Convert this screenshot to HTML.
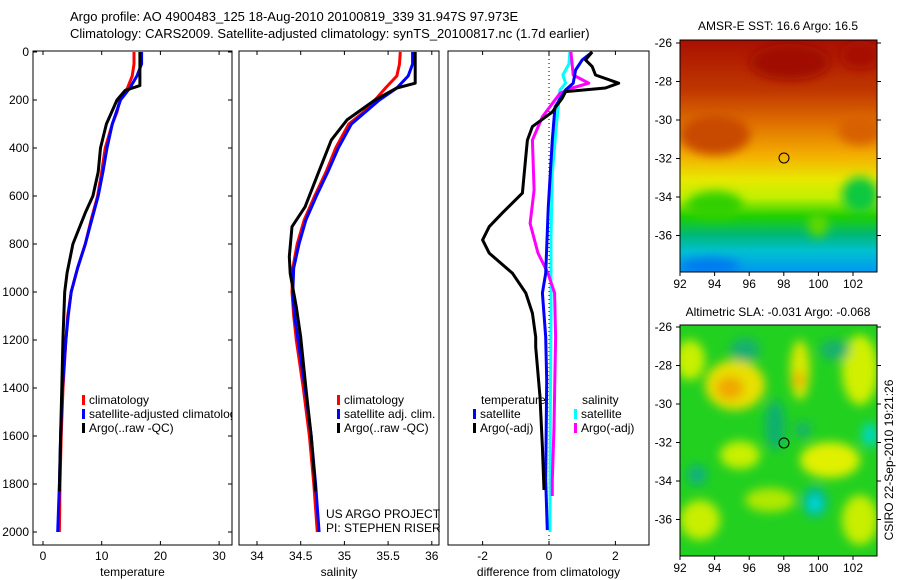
<!DOCTYPE html>
<html><head><meta charset="utf-8">
<style>
body{margin:0;background:#fff;width:900px;height:580px;overflow:hidden}
svg{display:block;font-family:"Liberation Sans",sans-serif}
</style></head>
<body>
<svg id="fig" width="900" height="580" viewBox="0 0 900 580">
<defs>
<filter id="blur6" x="-50%" y="-50%" width="200%" height="200%"><feGaussianBlur stdDeviation="5"/></filter>
<clipPath id="c1"><rect x="680" y="40" width="197" height="232"/></clipPath>
<clipPath id="c2"><rect x="680" y="325" width="197" height="231"/></clipPath>
<clipPath id="cp1"><rect x="33" y="51" width="199" height="494"/></clipPath>
<linearGradient id="sstg" x1="0" y1="0" x2="0" y2="1">
<stop offset="0" stop-color="#a81000"/><stop offset="0.22" stop-color="#c03800"/>
<stop offset="0.36" stop-color="#e07000"/><stop offset="0.5" stop-color="#f4b000"/>
<stop offset="0.6" stop-color="#e8e800"/><stop offset="0.68" stop-color="#c0f000"/>
<stop offset="0.76" stop-color="#20d000"/><stop offset="0.84" stop-color="#00b878"/>
<stop offset="0.91" stop-color="#00c0d0"/><stop offset="1" stop-color="#0098f0"/></linearGradient>
</defs>
<text x="70" y="21" font-size="13">Argo profile: AO 4900483_125 18-Aug-2010 20100819_339 31.947S 97.973E</text>
<text x="70" y="38" font-size="13">Climatology: CARS2009. Satellite-adjusted climatology: synTS_20100817.nc (1.7d earlier)</text>
<g id="p1"></g>
<g id="p2"></g>
<g id="p3"></g>

<g>
<text x="778" y="30" font-size="12" text-anchor="middle">AMSR-E SST: 16.6 Argo: 16.5</text>
<g clip-path="url(#c1)">
<rect x="680" y="40" width="197" height="232" fill="url(#sstg)"/>
<g filter="url(#blur6)">
<ellipse cx="790" cy="62" rx="40" ry="18" fill="#a00c00"/>
<ellipse cx="860" cy="55" rx="20" ry="14" fill="#a81000"/>
<ellipse cx="715" cy="135" rx="35" ry="20" fill="#c84800"/>
<ellipse cx="860" cy="130" rx="22" ry="15" fill="#d86000"/>
<ellipse cx="715" cy="205" rx="28" ry="14" fill="#30d000"/>
<ellipse cx="860" cy="195" rx="18" ry="18" fill="#10c840"/>
<ellipse cx="818" cy="225" rx="10" ry="12" fill="#60d800"/>
<ellipse cx="710" cy="266" rx="30" ry="8" fill="#0078f0"/>
</g></g>
<rect x="680" y="40" width="197" height="232" fill="none" stroke="#000"/>
<circle cx="784" cy="158" r="5" fill="none" stroke="#000"/>
<g id="m1ax"></g>
</g>

<g>
<text x="778" y="316" font-size="12" text-anchor="middle">Altimetric SLA: -0.031 Argo: -0.068</text>
<g clip-path="url(#c2)">
<rect x="680" y="325" width="197" height="231" fill="#22d020"/>
<g filter="url(#blur6)">
<ellipse cx="735" cy="385" rx="30" ry="25" fill="#e8e000"/>
<ellipse cx="730" cy="388" rx="14" ry="12" fill="#f0a800"/>
<ellipse cx="800" cy="370" rx="10" ry="30" fill="#d8e800"/>
<ellipse cx="799" cy="380" rx="6" ry="8" fill="#f0b000"/>
<ellipse cx="690" cy="360" rx="15" ry="20" fill="#c8f000"/>
<ellipse cx="860" cy="370" rx="18" ry="35" fill="#d0f000"/>
<ellipse cx="830" cy="460" rx="30" ry="18" fill="#e0f000"/>
<ellipse cx="740" cy="455" rx="20" ry="14" fill="#c8f000"/>
<ellipse cx="700" cy="520" rx="20" ry="20" fill="#c8ee00"/>
<ellipse cx="860" cy="520" rx="18" ry="25" fill="#c8ee00"/>
<ellipse cx="770" cy="500" rx="25" ry="12" fill="#b0e800"/>
<ellipse cx="815" cy="502" rx="12" ry="15" fill="#00b8a0"/>
<ellipse cx="815" cy="504" rx="6" ry="7" fill="#00e0e0"/>
<ellipse cx="775" cy="425" rx="10" ry="25" fill="#10b070"/>
<ellipse cx="745" cy="350" rx="15" ry="12" fill="#18b070"/>
<ellipse cx="835" cy="350" rx="15" ry="10" fill="#18b070"/>
<ellipse cx="697" cy="475" rx="10" ry="10" fill="#10b080"/>
<ellipse cx="870" cy="435" rx="8" ry="12" fill="#00d8c0"/>
<ellipse cx="803" cy="430" rx="8" ry="8" fill="#18b070"/>
</g></g>
<rect x="680" y="325" width="197" height="231" fill="none" stroke="#000"/>
<circle cx="784" cy="443" r="5" fill="none" stroke="#000"/>
<g id="m2ax"></g>
</g>
<text transform="translate(893,460) rotate(-90)" font-size="12" text-anchor="middle">CSIRO 22-Sep-2010 19:21:26</text>
</svg>
<script>
// ---- data ----
const gridDepth = [0,50,100,150,200,250,300,400,500,600,700,800,900,1000,1100,1200,1400,1600,1800,2000];
const tClim = [15.5,15.5,15.2,14.4,13.1,12.6,11.8,10.6,10.0,9.3,8.2,7.2,5.9,4.8,4.2,3.9,3.4,3.1,2.9,2.8];
const tSat = [16.8,16.8,16.0,14.8,13.2,12.5,11.8,10.9,10.2,9.4,8.3,7.2,5.9,4.8,4.3,3.9,3.3,3.0,2.8,2.5];
const tArgoDepth = [0,140,160,200,300,400,500,600,670,800,920,1000,1190,1400,1600,1830];
const tArgo = [16.5,16.5,14.0,12.6,10.8,9.8,9.4,8.5,7.2,5.1,4.1,3.7,3.4,3.2,3.0,2.8];
const sClim = [35.64,35.63,35.60,35.47,35.35,35.22,35.05,34.90,34.79,34.66,34.54,34.46,34.41,34.40,34.42,34.45,34.53,34.60,34.65,34.69];
const sSat = [35.78,35.78,35.73,35.60,35.40,35.24,35.08,34.93,34.81,34.68,34.56,34.48,34.42,34.41,34.43,34.47,34.55,34.62,34.67,34.71];
const sArgoDepth = [0,130,150,200,283,367,505,645,728,853,922,1062,1188,1400,1600,1830];
const sArgo = [35.81,35.81,35.60,35.35,35.03,34.85,34.70,34.55,34.40,34.37,34.38,34.45,34.50,34.56,34.62,34.67];
const dTArgoDepth = [0,33,61,96,130,150,165,192,220,250,311,367,436,588,670,728,783,838,922,1004,1088,1188,1229,1437,1646,1825];
const dTArgo = [1.3,1.1,1.3,1.4,2.1,1.7,0.5,0.4,0.25,0.1,-0.5,-0.65,-0.7,-0.8,-1.4,-1.8,-2.0,-1.8,-1.1,-0.7,-0.5,-0.4,-0.4,-0.27,-0.2,-0.15];
const dTSatDepth = [0,33,75,130,158,229,367,645,922,1004,1188,1367,1783,1992];
const dTSat = [1.3,1.0,0.8,0.73,0.5,0.18,0.1,-0.02,-0.1,-0.2,-0.1,-0.07,-0.1,-0.05];
const dSSatDepth = [0,50,96,130,158,297,505,783,1100,1500,2000];
const dSSat = [0.63,0.6,0.42,0.5,0.33,0.23,0.1,0.06,0.06,0.04,0.03];
const dSArgoDepth = [0,96,130,150,172,270,367,575,714,838,922,1004,1188,1562,1783,1850];
const dSArgo = [0.66,0.73,1.2,0.7,0.33,-0.2,-0.5,-0.45,-0.57,-0.33,-0.03,0.17,0.2,0.15,0.1,0.1];
const depthTicks = [0,200,400,600,800,1000,1200,1400,1600,1800,2000];
const tempTicks = [0,10,20,30];
const salTicks = [34,34.5,35,35.5,36];
const diffTicks = [-2,0,2];
const lonTicks = [92,94,96,98,100,102];
const latTicks = [-26,-28,-30,-32,-34,-36];

const NS = 'http://www.w3.org/2000/svg';
function mk(tag, attrs, parent){const e=document.createElementNS(NS,tag);for(const k in attrs)e.setAttribute(k,attrs[k]);parent.appendChild(e);return e;}
const yD = d => 52 + 0.24*d;
const xT = v => 43 + 5.87*v;
const xS = v => 257 + 87.4*(v-34);
const xDf = v => 549 + 33.2*v;

function panel(g, x0, x1, xs, ticks, title, leftTicks){
  const y0=51, y1=545;
  const r = mk('rect',{x:x0,y:y0,width:x1-x0,height:y1-y0,fill:'none',stroke:'#000'},g);
  
  
  ticks.forEach(t=>{
    const x=xs(t);
    mk('line',{x1:x,x2:x,y1:y0,y2:y0+4,stroke:'#000'},g);
    mk('line',{x1:x,x2:x,y1:y1,y2:y1-4,stroke:'#000'},g);
    const tx=mk('text',{x:x,y:y1+15,'font-size':12,'text-anchor':'middle'},g);
    tx.textContent=String(t);
    
    
  });
  const tt=mk('text',{x:(x0+x1)/2,y:576,'font-size':12,'text-anchor':'middle'},g);
  tt.textContent=title;
  
  
  if(leftTicks){
    depthTicks.forEach(d=>{
      const y=yD(d);
      mk('line',{x1:x0,x2:x0+4,y1:y,y2:y,stroke:'#000'},g);
      mk('line',{x1:x1,x2:x1-4,y1:y,y2:y,stroke:'#000'},g);
      const tx=mk('text',{x:x0-4,y:y+4,'font-size':12,'text-anchor':'end'},g);
      tx.textContent=String(d);
      
      
    });
  }
}
function line(g, depths, vals, xs, color, name){
  const pts = depths.map((d,i)=>xs(vals[i]).toFixed(1)+','+yD(d).toFixed(1)).join(' ');
  const p = mk('polyline',{points:pts,fill:'none',stroke:color,'stroke-width':3,'stroke-linejoin':'round'},g);
  
  
}
function legend(g, x, y, color, label, name){
  mk('rect',{x:x,y:y-9,width:3,height:10,fill:color},g);
  const t=mk('text',{x:x+7,y:y,'font-size':12},g);
  t.textContent=label;
  
  
}
const p1=document.getElementById('p1'), p2=document.getElementById('p2'), p3=document.getElementById('p3');
panel(p1,33,232,xT,tempTicks,'temperature',true);
line(p1,gridDepth,tClim,xT,'#f00','temp-climatology-line');
line(p1,gridDepth,tSat,xT,'#00f','temp-satellite-line');
line(p1,tArgoDepth,tArgo,xT,'#000','temp-argo-line');
const lg1=mk('g',{'clip-path':'url(#cp1)'},p1);
legend(lg1,82,404,'#f00','climatology','legend-climatology');
legend(lg1,82,418,'#00f','satellite-adjusted climatology','legend-satellite');
legend(lg1,82,432,'#000','Argo(..raw -QC)','legend-argo');

panel(p2,239,439,xS,salTicks,'salinity',false);
line(p2,gridDepth,sClim,xS,'#f00','sal-climatology-line');
line(p2,gridDepth,sSat,xS,'#00f','sal-satellite-line');
line(p2,sArgoDepth,sArgo,xS,'#000','sal-argo-line');
legend(p2,337,404,'#f00','climatology','legend-climatology');
legend(p2,337,418,'#00f','satellite adj. clim.','legend-satellite');
legend(p2,337,432,'#000','Argo(..raw -QC)','legend-argo');
[['US ARGO PROJECT',518],['PI: STEPHEN RISER',532]].forEach(([s,y])=>{
  const t=mk('text',{x:326,y:y,'font-size':12},p2);t.textContent=s;
  
  
});
panel(p3,448,649,xDf,diffTicks,'difference from climatology',false);
mk('line',{x1:549,x2:549,y1:51,y2:545,stroke:'#000','stroke-dasharray':'1,3'},p3);
line(p3,dSSatDepth,dSSat,xDf,'#0ff','diff-sal-satellite-line');
line(p3,dSArgoDepth,dSArgo,xDf,'#f0f','diff-sal-argo-line');
line(p3,dTSatDepth,dTSat,xDf,'#00f','diff-temp-satellite-line');
line(p3,dTArgoDepth,dTArgo,xDf,'#000','diff-temp-argo-line');
const lt=mk('text',{x:481,y:404,'font-size':12},p3);lt.textContent='temperature';


const ls=mk('text',{x:582,y:404,'font-size':12},p3);ls.textContent='salinity';


legend(p3,473,418,'#00f','satellite','legend-temp-satellite');
legend(p3,473,432,'#000','Argo(-adj)','legend-temp-argo');
legend(p3,574,418,'#0ff','satellite','legend-sal-satellite');
legend(p3,574,432,'#f0f','Argo(-adj)','legend-sal-argo');

function mapAxes(id, top, bottom, lat0y){
  const g=document.getElementById(id);
  lonTicks.forEach(l=>{
    const x=680+(l-92)*17.3;
    mk('line',{x1:x,x2:x,y1:bottom,y2:bottom+4,stroke:'#000'},g);
    const t=mk('text',{x:x,y:bottom+16,'font-size':12,'text-anchor':'middle'},g);t.textContent=String(l);
    
    
  });
  latTicks.forEach(l=>{
    const y=lat0y+(-26-l)*19.25;
    mk('line',{x1:676,x2:680,y1:y,y2:y,stroke:'#000'},g);
    mk('line',{x1:877,x2:881,y1:y,y2:y,stroke:'#000'},g);
    const t=mk('text',{x:672,y:y+4,'font-size':12,'text-anchor':'end'},g);t.textContent=String(l);
    
    
  });
}
mapAxes('m1ax',40,272,43);
mapAxes('m2ax',325,556,327);
</script>
</body></html>
